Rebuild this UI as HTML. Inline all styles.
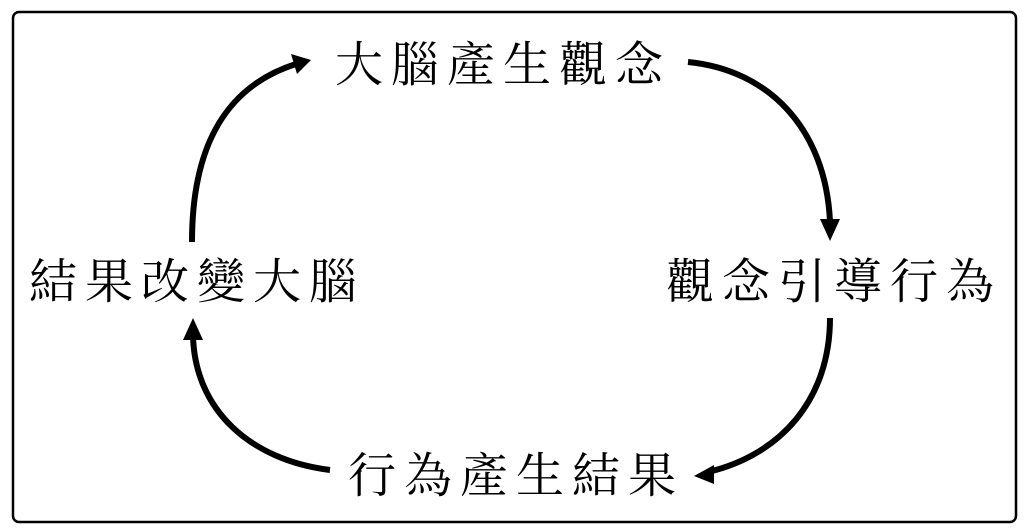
<!DOCTYPE html>
<html><head><meta charset="utf-8"><style>
html,body{margin:0;padding:0;background:#fff;}
body{width:1024px;height:531px;position:relative;overflow:hidden;}
.t{position:absolute;font-family:"Liberation Serif","Noto Serif CJK SC",serif;font-size:48px;line-height:48px;letter-spacing:8px;color:#000;white-space:nowrap;}
</style></head><body>
<svg width="1024" height="531" style="position:absolute;left:0;top:0">
<rect x="13" y="12" width="1003" height="510" rx="6" fill="none" stroke="#000" stroke-width="2.5"/>
<g fill="none" stroke="#000" stroke-width="6">
<path d="M192,242 C192,140 230,85 296,64"/>
<path d="M688,62 C770,70 826,130 830,222"/>
<path d="M830,318 C830,400 780,455 708,472"/>
<path d="M330,470 C250,460 195,410 193,336"/>
</g>
<g fill="#000">
<polygon points="311,60 291,54 297,74"/>
<polygon points="830,241 820,219 840,219"/>
<polygon points="694,476 714,465 714,484"/>
<polygon points="193,318 183,340 203,340"/>
</g>
</svg>
<div class="t" style="left:335px;top:42px">大腦產生觀念</div>
<div class="t" style="left:29px;top:259px">結果改變大腦</div>
<div class="t" style="left:666px;top:259px">觀念引導行為</div>
<div class="t" style="left:348px;top:453px">行為產生結果</div>
</body></html>
